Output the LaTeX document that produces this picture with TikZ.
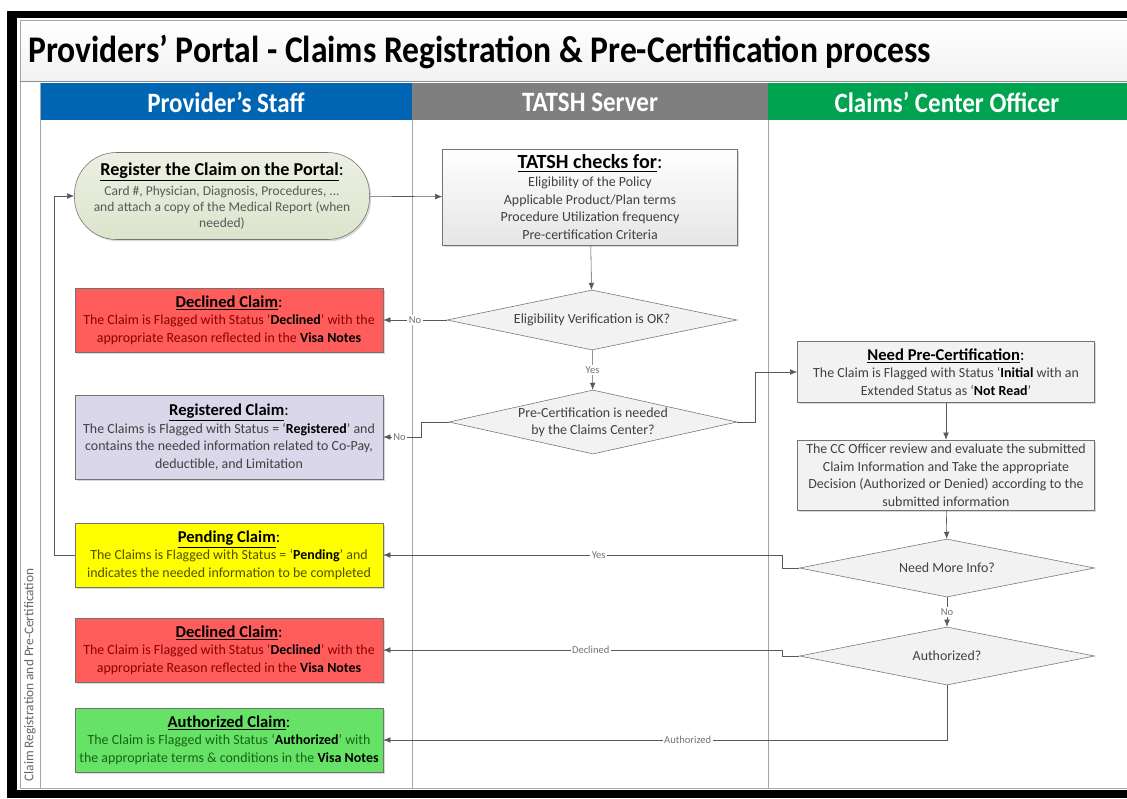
\documentclass[tikz,border=0pt]{standalone}
\usepackage{fontspec}
\setmainfont{Carlito}
\usetikzlibrary{shapes.geometric,shadows,arrows.meta}

\definecolor{staffblue}{RGB}{0,102,179}
\definecolor{servergray}{RGB}{127,127,127}
\definecolor{officergreen}{RGB}{0,163,80}
\definecolor{declfill}{RGB}{255,92,92}
\definecolor{decltext}{RGB}{140,0,0}
\definecolor{regfill}{RGB}{218,215,235}
\definecolor{pendfill}{RGB}{255,255,0}
\definecolor{pendtext}{RGB}{80,80,0}
\definecolor{authfill}{RGB}{102,226,102}
\definecolor{authtext}{RGB}{20,100,20}
\definecolor{portalfill}{RGB}{220,228,204}

\newcommand{\head}[2][11.8]{{\fontsize{#1}{15}\selectfont\color{black}\underline{\textbf{#2}}:}}
\newcommand{\tall}[1]{\scalebox{1}[1.12]{#1}}

\begin{document}
\begin{tikzpicture}[x=0.025cm,y=-0.025cm]
\tikzstyle{claim} = [draw=black!55, drop shadow={shadow xshift=1.2pt,shadow yshift=-1.2pt,opacity=.3}, minimum width=7.7cm, minimum height=1.6cm, align=center, inner sep=1pt, font=\fontsize{9.9}{12.5}\selectfont]
\tikzstyle{task} = [claim, fill=black!5, text=black!75, minimum width=7.425cm]
\tikzstyle{decision} = [diamond, aspect=4.5, draw=black!55, fill=black!5, inner sep=-3pt, align=center, text=black!75, font=\fontsize{9.9}{12}\selectfont]
\tikzstyle{lanehead} = [text=white, font=\fontsize{17.8}{20}\bfseries]
\tikzstyle{flow} = [draw=black!65, -{Latex[length=5pt,width=4pt]}]
\tikzstyle{lbl} = [fill=white, inner sep=1pt, text=black!55, font=\fontsize{7.5}{8}\selectfont]

\useasboundingbox (0,0) rectangle (1127,798);

% frame and title
\fill[black] (7,11) rectangle (1127,798);
\fill[white] (17,18) rectangle (1127,790);
\shade[top color=white, bottom color=black!5] (20,20) rectangle (1127,81);
\draw[black!35] (1130,20) -- (20,20) -- (20,788) -- (1130,788);
\draw[black!45] (20,81) -- (1127,81);
\node[anchor=base west, inner sep=0pt, font=\fontsize{23.9}{26}\bfseries] (title) at (28,62) {\tall{Providers' Portal - Claims Registration \& Pre-Certification process}};

% swim lanes
\fill[staffblue] (40,83) rectangle (412,120);
\fill[servergray] (412,83) rectangle (768,120);
\fill[officergreen] (768,83) rectangle (1127,120);
\draw[black!35] (40,83) -- (40,788) (412,120) -- (412,788) (768,120) -- (768,788);
\node[lanehead] (staff) at (226,102) {\tall{Provider's Staff}};
\node[lanehead] (server) at (590,102) {\tall{TATSH Server}};
\node[lanehead] (officer) at (947,102) {\tall{Claims' Center Officer}};
\node[rotate=90, text=black!60, font=\fontsize{9.5}{10}\selectfont] (phase) at (30,675) {Claim Registration and Pre-Certification};

% provider's staff
\node[claim, rounded corners=1.05cm, top color=portalfill!55, bottom color=portalfill, text=black!65, minimum width=7.375cm, minimum height=2.175cm, font=\fontsize{9.6}{11.2}\selectfont] (portal) at (222,196)
  {\head[12.9]{Register the Claim on the Portal}\\[3pt]Card \#, Physician, Diagnosis, Procedures, ...\\and attach a copy of the Medical Report (when\\needed)};
\node[claim, fill=declfill, text=decltext] (decl1) at (229,320)
  {\head{Declined Claim}\\The Claim is Flagged with Status `\textcolor{black}{\textbf{Declined}}' with the\\appropriate Reason reflected in the \textcolor{black}{\textbf{Visa Notes}}};
\node[claim, fill=regfill, text=black!75, minimum height=2.1cm] (reg) at (229,437)
  {\head{Registered Claim}\\The Claims is Flagged with Status = `\textcolor{black}{\textbf{Registered}}' and\\contains the needed information related to Co-Pay,\\deductible, and Limitation};
\node[claim, fill=pendfill, text=pendtext] (pend) at (229,555)
  {\head{Pending Claim}\\The Claims is Flagged with Status = `\textcolor{black}{\textbf{Pending}}' and\\indicates the needed information to be completed};
\node[claim, fill=declfill, text=decltext] (decl2) at (229,650)
  {\head{Declined Claim}\\The Claim is Flagged with Status `\textcolor{black}{\textbf{Declined}}' with the\\appropriate Reason reflected in the \textcolor{black}{\textbf{Visa Notes}}};
\node[claim, fill=authfill, text=authtext] (auth) at (229,740)
  {\head{Authorized Claim}\\The Claim is Flagged with Status `\textcolor{black}{\textbf{Authorized}}' with\\the appropriate terms \& conditions in the \textcolor{black}{\textbf{Visa Notes}}};

% TATSH server
\node[task, top color=white, bottom color=black!10, minimum width=7.375cm, minimum height=2.4cm] (checks) at (590,197)
  {\head[14.3]{TATSH checks for}\\Eligibility of the Policy\\Applicable Product/Plan terms\\Procedure Utilization frequency\\Pre-certification Criteria};
\node[decision, minimum width=7.25cm, minimum height=1.5cm] (elig) at (592,320) {Eligibility Verification is OK?};
\node[decision, minimum width=7.2cm, minimum height=1.6cm] (precert) at (593,422) {Pre-Certification is needed\\by the Claims Center?};

% claims' center officer
\node[task, minimum height=1.525cm] (needpc) at (946,372)
  {\head{Need Pre-Certification}\\The Claim is Flagged with Status `\textcolor{black}{\textbf{Initial}} with an\\Extended Status as `\textcolor{black}{\textbf{Not Read}}'};
\node[task, minimum height=1.75cm] (review) at (946,475)
  {The CC Officer review and evaluate the submitted\\Claim Information and Take the appropriate\\Decision (Authorized or Denied) according to the\\submitted information};
\node[decision, minimum width=7.375cm, minimum height=1.45cm] (more) at (947,568) {Need More Info?};
\node[decision, minimum width=7.375cm, minimum height=1.45cm] (authq) at (947,656) {Authorized?};

% connectors
\draw[flow] (portal) -- (checks);
\draw[flow] (checks) -- (elig);
\draw[flow] (elig) -- node[lbl]{No} (decl1);
\draw[flow] (elig) -- node[lbl]{Yes} (precert);
\draw[flow] (precert.west) -- ++(-27,0) |- node[lbl, pos=.79]{No} (reg.east);
\draw[flow] (precert.east) -- ++(18,0) |- (needpc.west);
\draw[flow] (needpc) -- (review);
\draw[flow] (review) -- (more);
\draw[flow] (more) -- node[lbl]{No} (authq);
\draw[flow] (more.west) -- ++(-17,0) |- node[lbl, pos=.73]{Yes} (pend.east);
\draw[flow] (authq.west) -- ++(-17,0) |- node[lbl, pos=.74]{Declined} (decl2.east);
\draw[flow] (authq.south) |- node[lbl, pos=.73]{Authorized} (auth.east);
\draw[flow] (pend.west) -- ++(-20,0) |- (portal.west);

\end{tikzpicture}
\end{document}
